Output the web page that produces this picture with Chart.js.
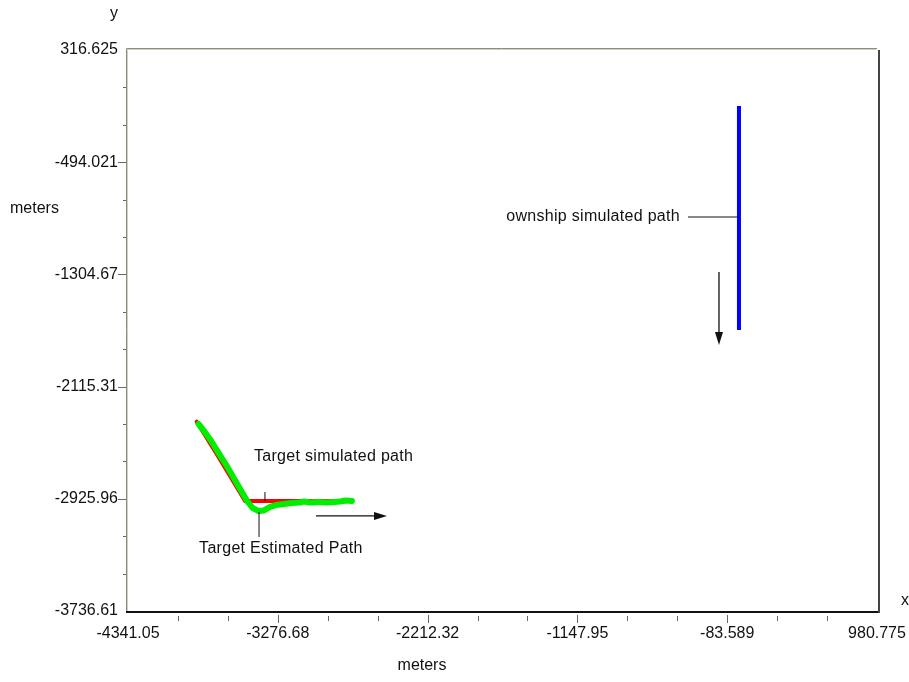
<!DOCTYPE html>
<html>
<head>
<meta charset="utf-8">
<title>Target motion analysis</title>
<script src="https://cdn.jsdelivr.net/npm/chart.js@4.4.1/dist/chart.umd.min.js"></script>
<style>
    html, body { margin: 0; padding: 0; background: #fff; }
    #wrap { width: 909px; height: 682px; }
</style>
</head>
<body>
<div id="wrap"><canvas id="myChart" width="909" height="682"></canvas></div>
<script>
"use strict"

// axis ranges and labelled ticks (two unlabelled ticks between each pair)
const xMin = -4341.05;
const xMax = 980.775;
const yMin = -3736.61;
const yMax = 316.625;
const xTickLabels = ["-4341.05", "-3276.68", "-2212.32", "-1147.95", "-83.589", "980.775"];
const yTickLabels = ["-3736.61", "-2925.96", "-2115.31", "-1304.67", "-494.021", "316.625"];
const minorPerMajor = 3;

// ownship simulated path (blue)
const ownshipX = [0, 0, 0, 0];
const ownshipY = [-88, -600, -1200, -1706];

// target simulated path (red)
const targetSimX = [-3853, -3700, -3509, -3200, -2950, -2750];
const targetSimY = [-2369, -2620, -2942, -2942, -2942, -2942];

// target estimated path (green)
const targetEstX = [-3840, -3792, -3752, -3708, -3677, -3638, -3600, -3565, -3524, -3490, -3456, -3417,
    -3375, -3332, -3290, -3233, -3176, -3119, -3090, -3048, -2991, -2934, -2877, -2835, -2792, -2750];
const targetEstY = [-2385, -2448, -2505, -2578, -2628, -2690, -2757, -2819, -2891, -2949, -2992, -3014,
    -3010, -2985, -2971, -2964, -2956, -2953, -2945, -2953, -2949, -2953, -2949, -2946, -2938, -2942];

// annotations, in data units
const noteTexts = ["ownship simulated path", "Target simulated path", "Target Estimated Path"];
const noteX = [-419, -3446, -3836];
const noteY = [-885, -2624, -3289];
const noteAlign = ["right", "left", "left"];
const leaderLines = [
    [-362, -890, 0, -890],
    [-3368, -2877, -3368, -2942],
    [-3410, -3021, -3410, -3202]
];
const arrows = [
    [-142, -1287, -142, -1815],
    [-3005, -3050, -2501, -3050]
];

const fontFamily = "'Liberation Sans', Arial, sans-serif";

const toPoints = (xs, ys) => xs.map((x, i) => ({ x: x, y: ys[i] }));

const buildTicks = (min, max, labels) => (scale) => {
    const n = (labels.length - 1) * minorPerMajor;
    const ticks = [];
    for (let i = 0; i <= n; i++) {
        ticks.push({ value: min + (max - min) * i / n });
    }
    scale.ticks = ticks;
};

const tickLabel = (labels) => (value, index) =>
    index % minorPerMajor === 0 ? labels[index / minorPerMajor] : "";

const decorations = {
    id: "decorations",
    afterDraw(chart) {
        const ctx = chart.ctx;
        const xs = chart.scales.x;
        const ys = chart.scales.y;
        const area = chart.chartArea;
        ctx.save();

        // frame: grey top/left, dark bottom/right
        ctx.lineWidth = 1;
        ctx.strokeStyle = "#8d8c7e";
        ctx.beginPath();
        ctx.moveTo(area.left - 1.5, area.bottom);
        ctx.lineTo(area.left - 1.5, area.top - 1.5);
        ctx.lineTo(area.right, area.top - 1.5);
        ctx.stroke();
        ctx.strokeStyle = "#cfcfc4";
        ctx.beginPath();
        ctx.moveTo(area.left - 0.5, area.bottom);
        ctx.lineTo(area.left - 0.5, area.top - 0.5);
        ctx.lineTo(area.right - 1, area.top - 0.5);
        ctx.stroke();
        ctx.lineWidth = 2;
        ctx.strokeStyle = "#111";
        ctx.beginPath();
        ctx.moveTo(area.left - 2, area.bottom + 1);
        ctx.lineTo(area.right + 3, area.bottom + 1);
        ctx.stroke();
        ctx.strokeStyle = "#444";
        ctx.beginPath();
        ctx.moveTo(area.right + 2, area.top);
        ctx.lineTo(area.right + 2, area.bottom + 2);
        ctx.stroke();

        // tick marks
        ctx.lineWidth = 1;
        ctx.strokeStyle = "#666";
        xs.ticks.forEach((t, i) => {
            const p = Math.round(xs.getPixelForValue(t.value)) + 0.5;
            const major = i % minorPerMajor === 0;
            if (i === 0 || i === xs.ticks.length - 1) return;
            ctx.beginPath();
            ctx.moveTo(p, area.bottom + (major ? 4 : 5));
            ctx.lineTo(p, area.bottom + (major ? 12 : 10));
            ctx.stroke();
        });
        ys.ticks.forEach((t, i) => {
            const p = Math.round(ys.getPixelForValue(t.value)) + 0.5;
            const major = i % minorPerMajor === 0;
            if (i === 0 || i === ys.ticks.length - 1) return;
            ctx.beginPath();
            ctx.moveTo(area.left - (major ? 10 : 5), p);
            ctx.lineTo(area.left - 2, p);
            ctx.stroke();
        });

        // axis titles
        ctx.fillStyle = "#111";
        ctx.font = "16px " + fontFamily;
        ctx.textBaseline = "middle";
        ctx.textAlign = "center";
        ctx.fillText("y", 114, 14);
        ctx.fillText("x", 905, 601);
        ctx.fillText("meters", 422, 666);
        ctx.textAlign = "left";
        ctx.fillText("meters", 10, 209);

        // annotations (the bitmap font in the original runs a little wide)
        ctx.letterSpacing = "0.3px";
        noteTexts.forEach((txt, i) => {
            ctx.textAlign = noteAlign[i];
            ctx.fillText(txt, xs.getPixelForValue(noteX[i]), ys.getPixelForValue(noteY[i]));
        });
        ctx.letterSpacing = "0px";
        ctx.strokeStyle = "#111";
        ctx.lineWidth = 1;
        leaderLines.forEach((l) => {
            ctx.beginPath();
            ctx.moveTo(xs.getPixelForValue(l[0]), ys.getPixelForValue(l[1]));
            ctx.lineTo(xs.getPixelForValue(l[2]), ys.getPixelForValue(l[3]));
            ctx.stroke();
        });
        arrows.forEach((a) => {
            const x1 = xs.getPixelForValue(a[0]), y1 = ys.getPixelForValue(a[1]);
            const x2 = xs.getPixelForValue(a[2]), y2 = ys.getPixelForValue(a[3]);
            const ang = Math.atan2(y2 - y1, x2 - x1);
            const head = 13, half = 4;
            ctx.lineWidth = 1.3;
            ctx.beginPath();
            ctx.moveTo(x1, y1);
            ctx.lineTo(x2 - head * Math.cos(ang), y2 - head * Math.sin(ang));
            ctx.stroke();
            ctx.fillStyle = "#111";
            ctx.beginPath();
            ctx.moveTo(x2, y2);
            ctx.lineTo(x2 - head * Math.cos(ang) - half * Math.sin(ang), y2 - head * Math.sin(ang) + half * Math.cos(ang));
            ctx.lineTo(x2 - head * Math.cos(ang) + half * Math.sin(ang), y2 - head * Math.sin(ang) - half * Math.cos(ang));
            ctx.closePath();
            ctx.fill();
        });
        ctx.restore();
    }
};

document.addEventListener("DOMContentLoaded", function() {
    const ctx = document.getElementById("myChart").getContext("2d");

    new Chart(ctx, {
        type: "scatter",
        data: {
            datasets: [{
                label: "Target Estimated Path",
                data: toPoints(targetEstX, targetEstY),
                borderColor: "#00ee00",
                borderWidth: 6,
                borderCapStyle: "round",
                borderJoinStyle: "round"
            }, {
                label: "Target simulated path",
                data: toPoints(targetSimX, targetSimY),
                borderColor: "#ff0000",
                borderWidth: 4,
                borderCapStyle: "round"
            }, {
                label: "ownship simulated path",
                data: toPoints(ownshipX, ownshipY),
                borderColor: "#0000ff",
                borderWidth: 4
            }]
        },
        options: {
            responsive: false,
            animation: false,
            devicePixelRatio: 1,
            showLine: true,
            elements: {
                point: { radius: 0, hoverRadius: 0 },
                line: { tension: 0, fill: false }
            },
            layout: {
                padding: { top: 50, right: 32, left: 0, bottom: 0 }
            },
            scales: {
                x: {
                    type: "linear",
                    min: xMin,
                    max: xMax,
                    afterBuildTicks: buildTicks(xMin, xMax, xTickLabels),
                    afterFit: (scale) => {
                        scale.height = 71;
                        scale.paddingLeft = 0;
                        scale.paddingRight = 0;
                    },
                    grid: { display: false, drawTicks: false },
                    border: { display: false },
                    ticks: {
                        autoSkip: false,
                        maxRotation: 0,
                        minRotation: 0,
                        padding: 13,
                        color: "#111",
                        font: { family: fontFamily, size: 16 },
                        callback: tickLabel(xTickLabels)
                    }
                },
                y: {
                    type: "linear",
                    min: yMin,
                    max: yMax,
                    afterBuildTicks: buildTicks(yMin, yMax, yTickLabels),
                    afterFit: (scale) => {
                        scale.width = 128;
                        scale.paddingTop = 0;
                        scale.paddingBottom = 0;
                    },
                    grid: { display: false, drawTicks: false },
                    border: { display: false },
                    ticks: {
                        autoSkip: false,
                        padding: 10,
                        color: "#111",
                        font: { family: fontFamily, size: 16 },
                        callback: tickLabel(yTickLabels)
                    }
                }
            },
            plugins: {
                legend: { display: false },
                tooltip: { enabled: false }
            }
        },
        plugins: [decorations]
    });
});
</script>
</body>
</html>
